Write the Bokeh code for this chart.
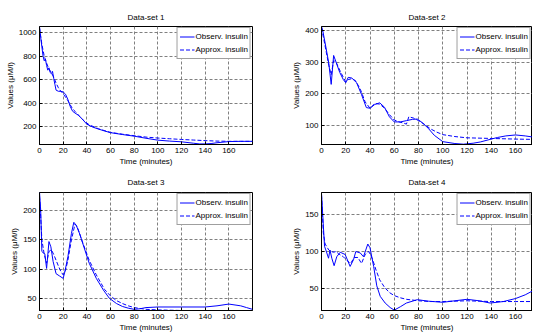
from bokeh.plotting import figure
from bokeh.models import Range1d, FixedTicker, Legend, LegendItem
from bokeh.layouts import column, row
from bokeh.embed import file_html
from bokeh.resources import INLINE

# ---------------- data ----------------
titles = ["Data-set 1", "Data-set 2", "Data-set 3", "Data-set 4"]
x_ticks = [0, 20, 40, 60, 80, 100, 120, 140, 160]

t1_obs = [0, 1, 2, 3, 4, 5, 6, 7, 8, 9, 10, 11, 12, 13, 14, 16, 18, 20, 22, 24, 26, 28, 30, 33, 36, 40,
          45, 50, 55, 60, 70, 80, 90, 100, 110, 120, 130, 135, 140, 145, 150, 160, 170, 180]
y1_obs = [1050, 960, 880, 800, 760, 775, 720, 680, 700, 660, 650, 670, 610, 560, 510, 500, 500, 495, 475,
          430, 370, 330, 315, 295, 265, 220, 195, 178, 162, 148, 132, 118, 100, 84, 76, 70, 58, 52, 52, 55,
          62, 72, 74, 74]
t1_apx = [0, 2, 4, 6, 8, 10, 12, 14, 16, 18, 20, 22, 24, 26, 28, 30, 34, 38, 42, 50, 60, 70, 80, 90, 100,
          110, 120, 130, 140, 150, 160, 170, 180]
y1_apx = [1040, 900, 800, 740, 690, 660, 620, 570, 530, 500, 480, 450, 420, 385, 350, 330, 285, 245, 215,
          180, 150, 135, 122, 110, 102, 96, 90, 85, 80, 76, 74, 74, 74]

t2_obs = [0, 1, 3, 6, 8, 10, 12, 15, 18, 20, 22, 25, 29, 33, 37, 40, 44, 48, 52, 56, 60, 65, 70, 75, 79,
          83, 88, 93, 100, 110, 117, 125, 131, 140, 145, 152, 160, 168, 175]
y2_obs = [412, 400, 360, 297, 230, 321, 300, 268, 245, 235, 252, 250, 235, 198, 157, 155, 167, 172, 158,
          128, 112, 112, 116, 120, 121, 110, 92, 70, 50, 44, 42, 45, 49, 58, 63, 68, 71, 68, 64]
t2_apx = [0, 2, 4, 6, 8, 10, 12, 15, 18, 20, 22, 25, 28, 32, 36, 40, 44, 48, 52, 56, 60, 64, 68, 70, 72,
          76, 80, 85, 90, 95, 100, 110, 120, 140, 160, 175]
y2_apx = [408, 370, 330, 290, 260, 305, 300, 275, 252, 238, 245, 248, 242, 215, 175, 155, 170, 168, 155,
          135, 118, 112, 108, 105, 128, 124, 116, 104, 90, 80, 72, 66, 62, 60, 58, 57]

t3_obs = [0, 1, 2, 3, 4.5, 6, 8, 9.6, 11.5, 14, 17, 20, 21.5, 24, 27, 29, 31, 34, 37, 42, 48, 54, 59, 65,
          70, 75, 80, 85, 90, 100, 120, 140, 150, 160, 170, 175, 180]
y3_obs = [232, 201, 130, 128, 126, 101, 147, 138, 113, 92, 88, 84, 96, 121, 161, 180, 175, 160, 141, 110,
          84, 64, 50, 41, 36, 33, 31, 32, 34, 35, 35, 35, 37, 40, 37, 34, 31]
t3_apx = [0, 1, 2, 4, 6, 8, 10, 12, 14, 16, 18, 20, 22, 24, 27, 30, 32, 36, 42, 48, 55, 60, 65, 70, 75,
          80, 90, 100, 120, 140, 160, 180]
y3_apx = [225, 190, 150, 125, 110, 130, 133, 125, 115, 105, 96, 90, 98, 115, 150, 177, 172, 148, 115, 90,
          65, 54, 46, 41, 37, 34, 31, 30, 29, 29, 29, 29]

t4_obs = [0, 1.4, 2.5, 4.4, 5.8, 7, 8.5, 10.4, 12.6, 15.4, 19.5, 23.6, 26.4, 28.3, 32, 34.6, 38.2, 40, 43,
          45.6, 48.4, 52.5, 56.6, 60, 65, 70, 79, 88, 100, 110, 120, 130, 139, 150, 160, 168, 175]
y4_obs = [178, 138, 107, 98, 91, 102, 91, 81, 93, 99, 96, 80, 89, 100, 98, 93, 110, 105, 80, 54, 40, 31,
          25, 21.5, 26, 31, 35.5, 33.5, 32, 34, 36, 34, 31, 33, 37, 42, 48]
t4_apx = [0, 1.5, 3, 6, 8, 10, 12, 14, 18, 21, 24, 27, 30, 33, 36, 39, 42, 45, 48, 52, 56, 60, 65, 70, 80,
          90, 100, 120, 140, 160, 175]
y4_apx = [176, 125, 110, 102, 100, 99, 100, 97, 93, 88, 84, 92, 92, 84, 96, 100, 90, 75, 62, 52, 45, 41,
          38, 36, 34, 33, 33, 34, 33, 33, 33]

y_ticks = [[200, 400, 600, 800, 1000], [100, 200, 300, 400], [50, 100, 150, 200], [50, 100, 150]]
y_limits = [(47, 1052), (41, 412), (29, 231), (21, 179)]
x_limits = [(0, 180), (0, 174), (0, 180), (0, 174)]

FONT = "Liberation Sans"
BLUE = "#0000ff"


def make(i, t_obs, y_obs, t_apx, y_apx, w, h, bl, br, bt, bb, tstand):
    p = figure(width=w, height=h, output_backend="svg", toolbar_location=None,
               x_range=Range1d(*x_limits[i]), y_range=Range1d(*y_limits[i]),
               min_border_left=bl, min_border_right=br, min_border_top=bt, min_border_bottom=bb,
               title=titles[i])
    p.title.align = "center"
    p.title.text_font = FONT
    p.title.text_font_size = "8px"
    p.title.text_font_style = "normal"
    p.title.text_color = "black"
    p.title.standoff = tstand
    p.title.offset = 0
    p.outline_line_color = "black"
    p.outline_line_alpha = 1
    p.background_fill_color = "white"
    p.border_fill_color = "white"

    r1 = p.line(t_obs, y_obs, line_color=BLUE, line_width=1)
    r2 = p.line(t_apx, y_apx, line_color=BLUE, line_width=1, line_dash="4 2")

    p.xaxis.ticker = FixedTicker(ticks=x_ticks)
    p.yaxis.ticker = FixedTicker(ticks=y_ticks[i])
    p.xgrid.ticker = FixedTicker(ticks=x_ticks)
    p.ygrid.ticker = FixedTicker(ticks=y_ticks[i])
    for g in (p.xgrid, p.ygrid):
        g.grid_line_color = "#808080"
        g.grid_line_dash = "3 2"
        g.grid_line_width = 1
    for ax in (p.xaxis, p.yaxis):
        ax.major_tick_in = 3
        ax.major_tick_out = 0
        ax.minor_tick_line_color = None
        ax.axis_line_color = "black"
        ax.major_tick_line_color = "black"
        ax.major_label_text_font = FONT
        ax.major_label_text_font_size = "8px"
        ax.major_label_text_color = "black"
        ax.axis_label_text_font = FONT
        ax.axis_label_text_font_size = "8px"
        ax.axis_label_text_font_style = "normal"
        ax.axis_label_text_color = "black"
        ax.axis_label_standoff = 1
        ax.major_label_standoff = 3
    p.xaxis.axis_label = "Time (minutes)"
    p.yaxis.axis_label = "Values (\u03bcM/l)"

    leg = Legend(items=[LegendItem(label="Observ. insulin", renderers=[r1]),
                        LegendItem(label="Approx. insulin", renderers=[r2])],
                 location="top_right")
    leg.padding = 2
    leg.spacing = 0
    leg.margin = 1
    leg.label_height = 13
    leg.glyph_height = 13
    leg.glyph_width = 15
    leg.label_standoff = 1
    leg.label_text_font = FONT
    leg.label_text_font_size = "8px"
    leg.label_text_color = "black"
    leg.border_line_color = "#404040"
    leg.background_fill_alpha = 1
    p.add_layout(leg)
    return p


p1 = make(0, t1_obs, y1_obs, t1_apx, y1_apx, 282, 168, 39, 30, 26, 24, 10)
p2 = make(1, t2_obs, y2_obs, t2_apx, y2_apx, 250, 168, 39, 0, 26, 24, 10)
p3 = make(2, t3_obs, y3_obs, t3_apx, y3_apx, 282, 166, 39, 30, 24, 23, 12)
p4 = make(3, t4_obs, y4_obs, t4_apx, y4_apx, 250, 166, 39, 0, 24, 23, 12)

layout = column(row(p1, p2), row(p3, p4))
open("out.html", "w").write(file_html(layout, INLINE))
